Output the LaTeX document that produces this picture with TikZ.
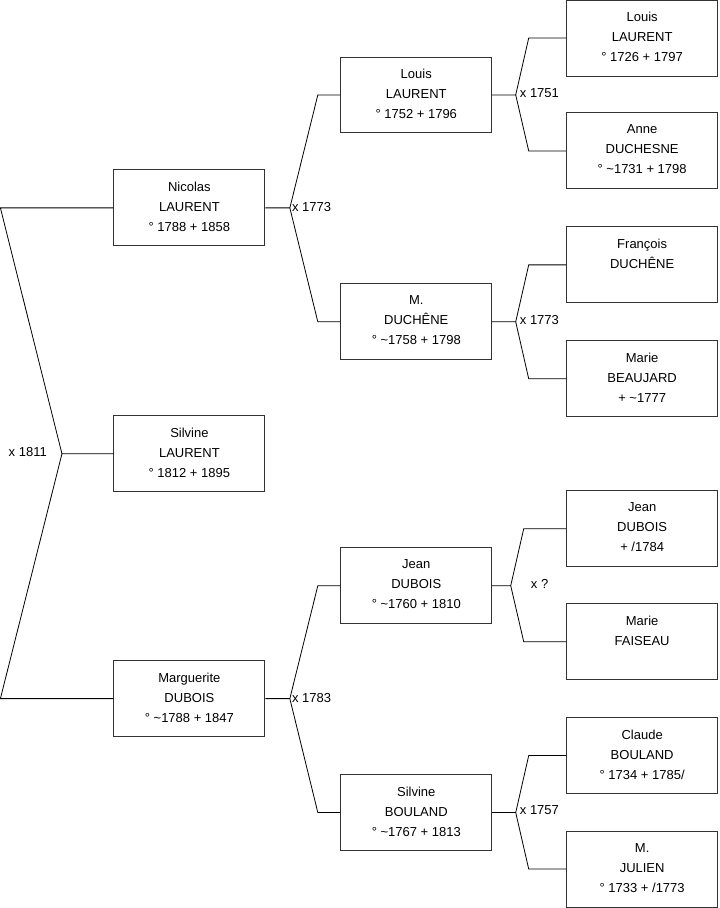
\documentclass[tikz,border=0pt]{standalone}
\usepackage{fontspec}
\setmainfont{Liberation Sans}
\usepackage{tikz}
\usetikzlibrary{positioning}

\begin{document}
\begin{tikzpicture}[
    x=1pt,y=-1pt,
    box/.style={draw=black!80,line width=0.9pt,minimum width=151pt,minimum height=76pt,inner sep=0pt},
    txt/.style={anchor=north,yshift=-12.3pt,inner sep=0pt,align=center,
                font=\fontsize{13}{20}\selectfont},
    link/.style={draw=black,line width=0.8pt},
    mariage/.style={inner sep=0pt,font=\fontsize{13}{16}\selectfont}
  ]
    \useasboundingbox (0,0) rectangle (719.5,908.5);
    % generation 1
    \node[box,label={[txt]north:Nicolas\\LAURENT\\° 1788 + 1858}] (nicolas) at (189.5,208) {};
    \node[box,label={[txt]north:Silvine\\LAURENT\\° 1812 + 1895}] (silvine) at (189.5,454) {};
    \node[box,label={[txt]north:Marguerite\\DUBOIS\\° \textasciitilde1788 + 1847}] (marguerite) at (189.5,699) {};
    % generation 2
    \node[box,label={[txt]north:Louis\\LAURENT\\° 1752 + 1796}] (louisp) at (416.5,95) {};
    \node[box,label={[txt]north:M.\\DUCHÊNE\\° \textasciitilde1758 + 1798}] (duchene) at (416.5,322) {};
    \node[box,label={[txt]north:Jean\\DUBOIS\\° \textasciitilde1760 + 1810}] (jeanp) at (416.5,586) {};
    \node[box,label={[txt]north:Silvine\\BOULAND\\° \textasciitilde1767 + 1813}] (bouland) at (416.5,813) {};
    % generation 3
    \node[box,label={[txt]north:Louis\\LAURENT\\° 1726 + 1797}] (louisg) at (642.5,38) {};
    \node[box,label={[txt]north:Anne\\DUCHESNE\\° \textasciitilde1731 + 1798}] (anne) at (642.5,151) {};
    \node[box,label={[txt]north:François\\DUCHÊNE}] (francois) at (642.5,265) {};
    \node[box,label={[txt]north:Marie\\BEAUJARD\\+ \textasciitilde1777}] (beaujard) at (642.5,379) {};
    \node[box,label={[txt]north:Jean\\DUBOIS\\+ /1784}] (jeang) at (642.5,529) {};
    \node[box,label={[txt]north:Marie\\FAISEAU}] (faiseau) at (642.5,642) {};
    \node[box,label={[txt]north:Claude\\BOULAND\\° 1734 + 1785/}] (claude) at (642.5,756) {};
    \node[box,label={[txt]north:M.\\JULIEN\\° 1733 + /1773}] (julien) at (642.5,869.5) {};

    % forks
    \coordinate (f1) at (62,454);
    \draw[link] (silvine.west) -- (f1) -- (0.4,208) -- (nicolas.west);
    \draw[link] (f1) -- (0.4,699) -- (marguerite.west);
    \node[mariage,anchor=east] (m1) at (47,452) {x 1811};

    \coordinate (f2) at (290,208);
    \draw[link] (nicolas.east) -- (f2) -- (318,95) -- (louisp.west);
    \draw[link] (f2) -- (318,322) -- (duchene.west);
    \node[mariage,anchor=west] (m2) at (292,207) {x 1773};

    \coordinate (f3) at (290,699);
    \draw[link] (marguerite.east) -- (f3) -- (318,586) -- (jeanp.west);
    \draw[link] (f3) -- (318,813) -- (bouland.west);
    \node[mariage,anchor=west] (m3) at (292,698) {x 1783};

    \coordinate (f4) at (516,95);
    \draw[link] (louisp.east) -- (f4) -- (529,38) -- (louisg.west);
    \draw[link] (f4) -- (529,151) -- (anne.west);
    \node[mariage,anchor=west] (m4) at (520,93) {x 1751};

    \coordinate (f5) at (516,322);
    \draw[link] (duchene.east) -- (f5) -- (529,265) -- (francois.west);
    \draw[link] (f5) -- (529,379) -- (beaujard.west);
    \node[mariage,anchor=west] (m5) at (520,320) {x 1773};

    \coordinate (f6) at (511,586);
    \draw[link] (jeanp.east) -- (f6) -- (524,529) -- (jeang.west);
    \draw[link] (f6) -- (524,642) -- (faiseau.west);
    \node[mariage,anchor=west] (m6) at (531,584) {x ?};

    \coordinate (f7) at (516,813);
    \draw[link] (bouland.east) -- (f7) -- (529,756) -- (claude.west);
    \draw[link] (f7) -- (529,869.5) -- (julien.west);
    \node[mariage,anchor=west] (m7) at (520,811) {x 1757};
  \end{tikzpicture}
\end{document}
